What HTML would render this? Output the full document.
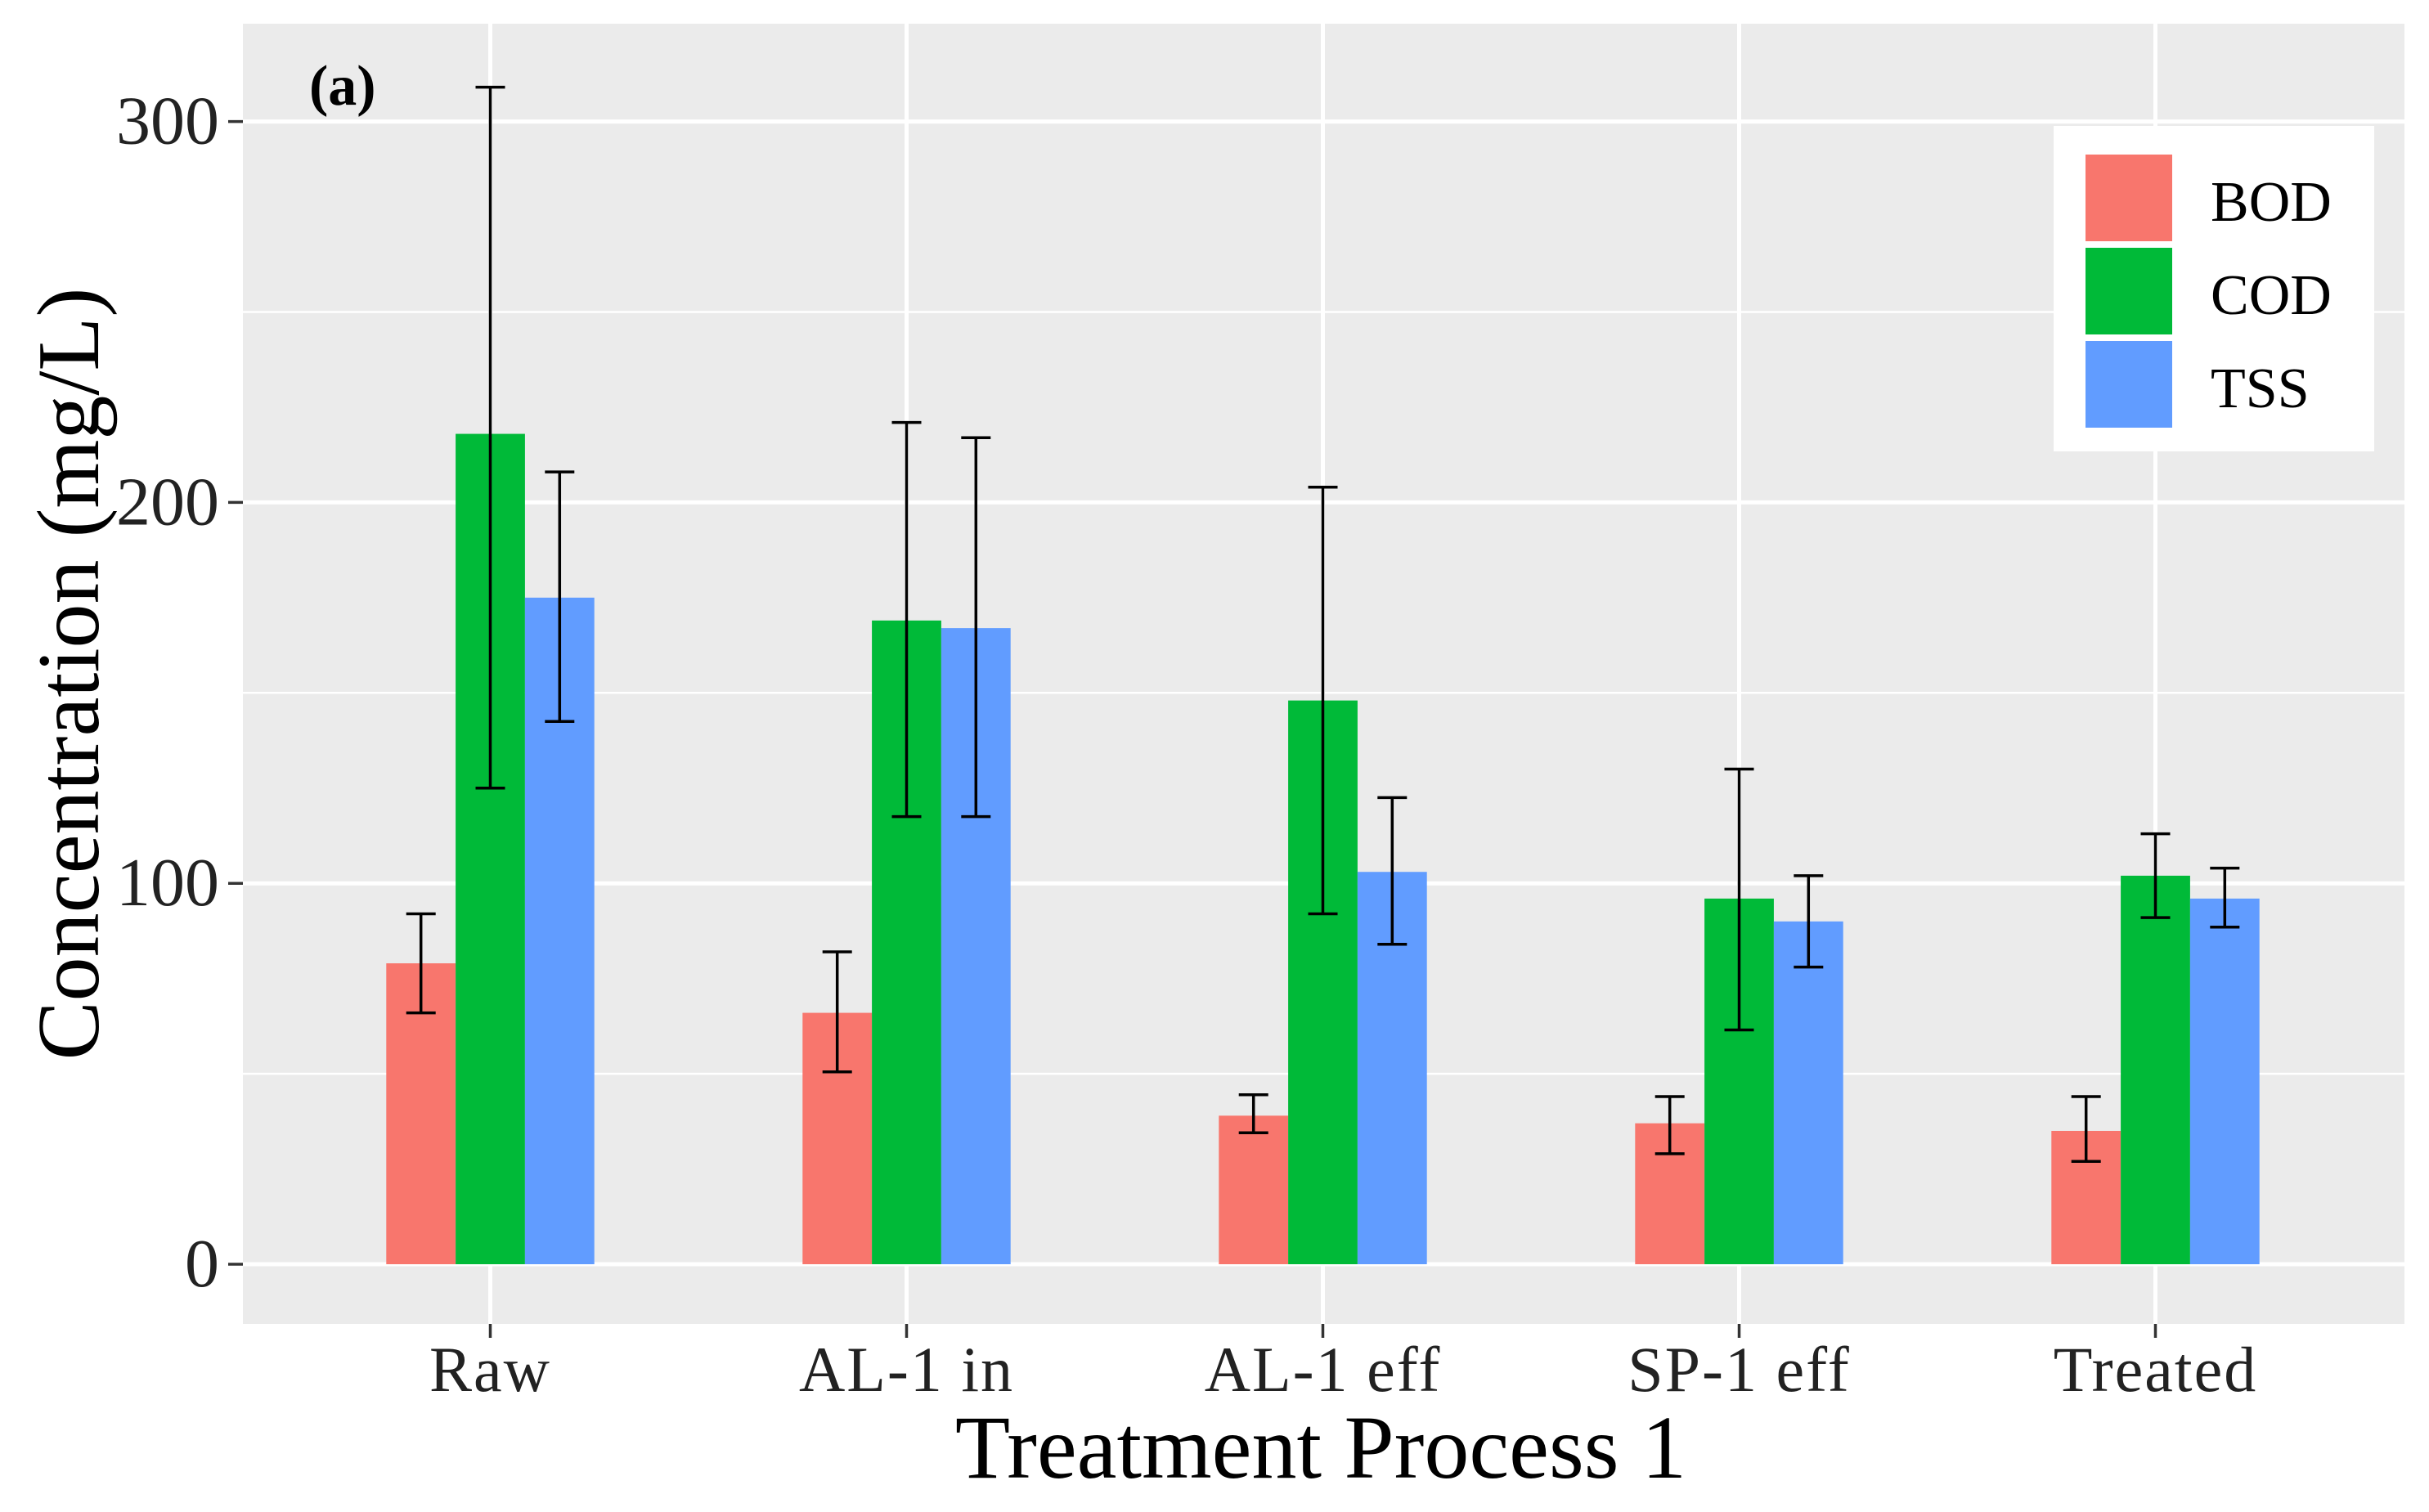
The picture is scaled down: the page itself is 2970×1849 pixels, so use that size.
<!DOCTYPE html>
<html><head><meta charset="utf-8"><style>
html,body{margin:0;padding:0;background:#fff;}
svg{display:block;font-family:"Liberation Serif",serif;}
</style></head><body>
<svg id="chart" width="2970" height="1849" viewBox="0 0 2970 1849"></svg>
<script>
const categories = ["Raw","AL-1 in","AL-1 eff","SP-1 eff","Treated"];
const seriesNames = ["BOD","COD","TSS"];
const bodVals = [79,66,39,37,35];
const bodLo = [66,50.5,34.5,29,27];
const bodHi = [92,82,44.5,44,44];
const codVals = [218,169,148,96,102];
const codLo = [125,117.5,92,61.5,91];
const codHi = [309,221,204,130,113];
const tssVals = [175,167,103,90,96];
const tssLo = [142.5,117.5,84,78,88.5];
const tssHi = [208,217,122.5,102,104];
const yTicks = [0,100,200,300];
const yMinor = [50,150,250];

const colors = ["#F8766D","#00BA38","#619CFF"];
const NS = "http://www.w3.org/2000/svg";
const svg = document.getElementById("chart");
const P = {l:297,r:2940,t:29,b:1619};
const y0px = 1546, pxPerUnit = 465.8/100;
function yS(v){return y0px - v*pxPerUnit;}
const cat0 = 599.5, catStep = 509;
function xS(i){return cat0 + i*catStep;}
const barW = 84.8;

function el(tag, attrs, parent){
  const e = document.createElementNS(NS, tag);
  for (const k in attrs) e.setAttribute(k, attrs[k]);
  (parent||svg).appendChild(e);
  return e;
}
let panel = el("rect",{x:P.l,y:P.t,width:P.r-P.l,height:P.b-P.t,fill:"#EBEBEB"});



yMinor.forEach(v=>{
  const g = el("line",{x1:P.l,x2:P.r,y1:yS(v),y2:yS(v),stroke:"#fff","stroke-width":2.5});
  
  
});
yTicks.forEach(v=>{
  const g = el("line",{x1:P.l,x2:P.r,y1:yS(v),y2:yS(v),stroke:"#fff","stroke-width":5});
  
  
  const t = el("line",{x1:279,x2:P.l,y1:yS(v),y2:yS(v),stroke:"#333","stroke-width":3.5});
  
  
  const lab = el("text",{x:268,y:yS(v)+27,"text-anchor":"end","font-size":84,fill:"#222"});
  lab.textContent = v;
  
  
});
categories.forEach((c,i)=>{
  const g = el("line",{x1:xS(i),x2:xS(i),y1:P.t,y2:P.b,stroke:"#fff","stroke-width":5});
  
  
  const t = el("line",{x1:xS(i),x2:xS(i),y1:P.b,y2:P.b+17,stroke:"#333","stroke-width":3.5});
  
  
  const lab = el("text",{x:xS(i),y:1701,"text-anchor":"middle","font-size":78,"letter-spacing":2,fill:"#222"});
  lab.textContent = c;
  
  
});
const vals=[bodVals,codVals,tssVals], los=[bodLo,codLo,tssLo], his=[bodHi,codHi,tssHi];
vals.forEach((arr,s)=>{
  arr.forEach((v,i)=>{
    const x = xS(i) + (s-1.5)*barW;
    const b = el("rect",{x:x,y:yS(v),width:barW,height:yS(0)-yS(v),fill:colors[s]});
    
    
  });
});
vals.forEach((arr,s)=>{
  arr.forEach((v,i)=>{
    const cx = xS(i) + (s-1)*barW;
    const g = el("g",{stroke:"#000","stroke-width":3.5,fill:"none"});
    
    
    el("line",{x1:cx,x2:cx,y1:yS(his[s][i]),y2:yS(los[s][i])},g);
    el("line",{x1:cx-18,x2:cx+18,y1:yS(his[s][i]),y2:yS(his[s][i])},g);
    el("line",{x1:cx-18,x2:cx+18,y1:yS(los[s][i]),y2:yS(los[s][i])},g);
  });
});
// legend
const lg = el("g",{});


el("rect",{x:2511,y:154,width:392,height:398,fill:"#fff"},lg);
const keyY=[189,303,417];
seriesNames.forEach((n,s)=>{
  const k = el("rect",{x:2550,y:keyY[s],width:106,height:106,fill:colors[s]},lg);
  
  
  const t = el("text",{x:2703,y:keyY[s]+81,"font-size":70,fill:"#000"},lg);
  t.textContent = n;
  
  
});
const pa = el("text",{x:378,y:128,"font-size":70,"font-weight":"bold",fill:"#000"});
pa.textContent="(a)";


const xt = el("text",{x:1615,y:1807,"text-anchor":"middle","font-size":110,fill:"#000"});
xt.textContent="Treatment Process 1";


const yt = el("text",{x:0,y:0,"text-anchor":"middle","font-size":108,fill:"#000",transform:"translate(120,824) rotate(-90)"});
yt.textContent="Concentration (mg/L)";


</script>
</body></html>
